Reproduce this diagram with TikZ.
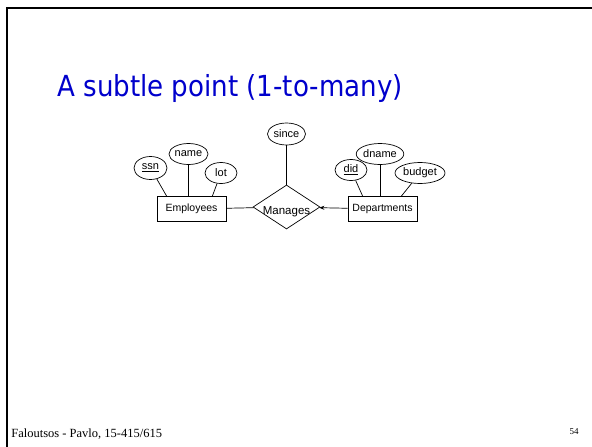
\documentclass[tikz,border=0pt]{standalone}
\usepackage{fontspec}
\setmainfont{Liberation Serif}
\setsansfont{Liberation Sans}
\newfontfamily\titlefont{DejaVu Sans Condensed}
\usetikzlibrary{shapes.geometric,arrows.meta}
\definecolor{titleblue}{RGB}{0,0,204}
\tikzset{entity/.style={draw, rectangle, minimum width=69pt, minimum height=25pt, inner sep=0, font=\sffamily\fontsize{10.5}{11}\selectfont}}
\tikzset{attr/.style={draw, ellipse, inner sep=0, minimum height=21pt, font=\sffamily\fontsize{11}{12}\selectfont}}
\tikzset{rel/.style={draw, diamond, aspect=1.5, inner sep=0, minimum width=67pt, minimum height=44pt, font=\sffamily\fontsize{11.5}{12}\selectfont}}

\begin{document}
\begin{tikzpicture}[x=1pt,y=-1pt,line width=.7pt]
\useasboundingbox (0,0) rectangle (592,447);
% slide frame
\draw[line width=2pt] (592,8) -- (7,8) -- (7,447);

\node[anchor=base west, text=titleblue, font=\titlefont\fontsize{29}{30}\selectfont, inner sep=0] (title) at (57,96) {A subtle point (1-to-many)};

% entities and relationship
\node[entity] (emp) at (191.5,209) {Employees};
\node[rel] (man) at (286.5,207) {\raisebox{-7.5pt}[0pt][0pt]{Manages}};
\node[entity] (dept) at (382.5,209) {Departments};

% attributes
\node[attr, minimum width=33pt, minimum height=23pt] (ssn) at (150.5,168) {\underline{ssn}};
\node[attr, minimum width=39pt] (name) at (188.5,154) {name};
\node[attr, minimum width=32pt] (lot) at (221,173) {lot};
\node[attr, minimum width=38pt, minimum height=22pt] (since) at (286.5,134) {since};
\node[attr, minimum width=32pt] (did) at (351,170) {\underline{did}};
\node[attr, minimum width=45pt] (dname) at (380,154) {dname};
\node[attr, minimum width=50pt] (budget) at (420,173) {budget};

\draw (ssn) -- ([xshift=10pt]emp.north west);
\draw (name) -- (name |- emp.north);
\draw (lot) -- ([xshift=-14pt]emp.north east);
\draw (did) -- ([xshift=15pt]dept.north west);
\draw (dname) -- (dname |- dept.north);
\draw (budget) -- ([xshift=-16pt]dept.north east);
\draw (since) -- (man);
\draw (emp) -- (man);
\draw[-{Stealth[length=5pt,width=4pt]}] (dept) -- (man);

% footer
\node[anchor=base west, inner sep=0, font=\fontsize{12.5}{14}\selectfont] (foot) at (11,437) {Faloutsos - Pavlo, 15-415/615};
\node[anchor=base east, inner sep=0, font=\fontsize{9}{10}\selectfont] (page) at (579,434) {54};
\end{tikzpicture}
\end{document}
